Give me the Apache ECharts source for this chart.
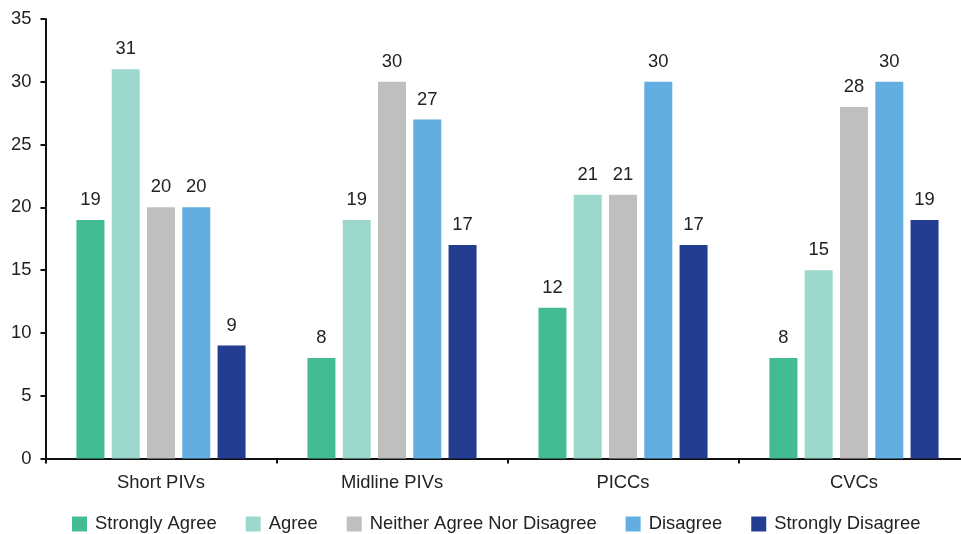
<!DOCTYPE html>
<html>
<head>
<meta charset="utf-8">
<script src="https://cdn.jsdelivr.net/npm/echarts@6/dist/echarts.min.js"></script>
<style>
html,body{margin:0;padding:0;background:#fff;}
#chart{width:961px;height:534px;}
</style>
</head>
<body>
<div id="chart"></div>
<script>
const categories = ['Short PIVs', 'Midline PIVs', 'PICCs', 'CVCs'];
const seriesNames = ['Strongly Agree', 'Agree', 'Neither Agree Nor Disagree', 'Disagree', 'Strongly Disagree'];
const stronglyAgree = [19, 8, 12, 8];
const agree = [31, 19, 21, 15];
const neither = [20, 30, 21, 28];
const disagree = [20, 27, 30, 30];
const stronglyDisagree = [9, 17, 17, 19];
const yTicks = [0, 5, 10, 15, 20, 25, 30, 35];

const colors = ['#43BC94', '#9CD8CC', '#BFBFBF', '#62AEE0', '#233D91'];
const values = [stronglyAgree, agree, neither, disagree, stronglyDisagree];
const font = 'Liberation Sans, Arial, sans-serif';

const chart = echarts.init(document.getElementById('chart'), null, {renderer: 'canvas'});
chart.setOption({
  animation: false,
  color: colors,
  grid: {left: 45.5, width: 924, top: 19, bottom: 75.5, containLabel: false, outerBoundsMode: 'none'},
  legend: {
    top: 515,
    left: 72,
    padding: 0,
    itemWidth: 15,
    itemHeight: 15,
    itemGap: 29,
    icon: 'rect',
    textStyle: {fontFamily: font, fontSize: 18.4, color: '#222', padding: [0, 0, 0, 3]},
    data: seriesNames
  },
  xAxis: {
    type: 'category',
    data: categories,
    axisLine: {lineStyle: {color: '#111', width: 2}},
    axisTick: {show: true, length: 5, lineStyle: {color: '#111', width: 2}},
    axisLabel: {fontFamily: font, fontSize: 18.4, color: '#222', margin: 15}
  },
  yAxis: {
    type: 'value',
    min: yTicks[0],
    max: yTicks[yTicks.length - 1],
    interval: 5,
    splitLine: {show: false},
    axisLine: {show: true, lineStyle: {color: '#111', width: 2}},
    axisTick: {show: true, length: 5, lineStyle: {color: '#111', width: 2}},
    axisLabel: {fontFamily: font, fontSize: 18.4, color: '#222', margin: 14}
  },
  series: seriesNames.map((name, i) => ({
    name: name,
    type: 'bar',
    data: values[i],
    barWidth: 28,
    barGap: '26%',
    itemStyle: {color: colors[i]},
    label: {
      show: true,
      position: 'top',
      distance: 11,
      fontFamily: font,
      fontSize: 18.4,
      color: '#222'
    }
  }))
});
</script>
</body>
</html>
